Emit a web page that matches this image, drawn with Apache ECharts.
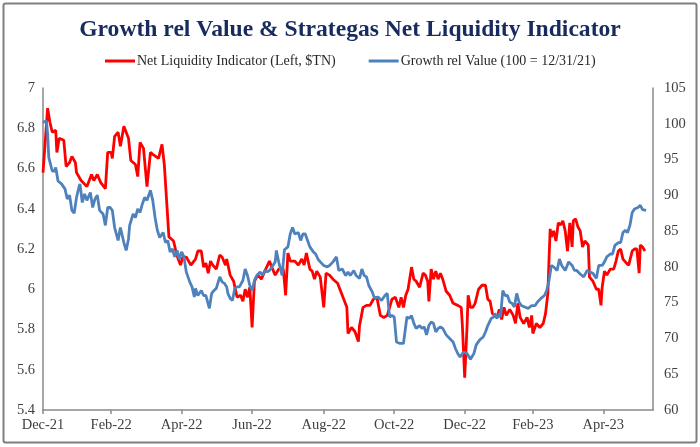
<!DOCTYPE html>
<html>
<head>
<meta charset="utf-8">
<script src="https://cdn.jsdelivr.net/npm/echarts@6/dist/echarts.min.js"></script>
<style>
  html, body { margin: 0; padding: 0; background: #fff; }
  #chart { width: 700px; height: 447px; }
</style>
</head>
<body>
<div id="chart"></div>
<script>
// Days counted from 2021-12-31
const tickDays = [0, 59, 120, 181, 243, 304, 365, 424, 485];
const tickLabels = ['Dec-21', 'Feb-22', 'Apr-22', 'Jun-22', 'Aug-22', 'Oct-22', 'Dec-22', 'Feb-23', 'Apr-23'];

const nliName = 'Net Liquidity Indicator (Left, $TN)';
const grvName = 'Growth rel Value (100 = 12/31/21)';

const nliDays = [0,4,6,8,11,12,14,18,20,23,25,28,29,33,38,42,44,47,50,54,56,59,60,62,65,67,70,72,74,76,80,82,84,87,90,93,95,100,103,105,107,109,113,115,117,119,121,124,128,132,134,137,139,141,143,145,147,150,153,155,158,159,162,165,168,171,173,175,177,179,181,183,186,189,192,196,198,201,204,208,210,212,214,218,221,224,226,228,231,233,235,237,240,243,245,248,251,255,257,261,263,264,267,270,273,274,277,280,283,286,289,292,295,298,302,305,308,310,312,314,316,319,321,323,326,329,331,333,334,336,338,340,342,344,346,349,352,355,359,362,363,365,367,368,370,372,374,377,380,383,385,387,389,393,395,397,399,401,404,407,409,411,413,416,419,421,423,424,427,430,433,435,437,438,439,440,442,444,446,448,450,452,454,456,458,459,461,463,465,467,469,472,473,476,479,481,483,484,486,488,491,494,496,498,500,502,505,507,510,512,514,516,517,519,521];
const nliValues = [6.58,6.90,6.83,6.78,6.79,6.68,6.75,6.74,6.61,6.63,6.66,6.63,6.58,6.54,6.51,6.57,6.54,6.57,6.53,6.50,6.68,6.68,6.65,6.76,6.78,6.71,6.81,6.78,6.75,6.64,6.62,6.56,6.73,6.70,6.51,6.68,6.67,6.65,6.72,6.62,6.44,6.26,6.24,6.19,6.15,6.12,6.16,6.16,6.12,6.15,6.19,6.19,6.11,6.13,6.08,6.14,6.12,6.10,6.17,6.16,6.12,6.15,6.07,6.04,5.96,5.97,5.94,6.00,5.96,6.01,5.81,6.04,6.07,6.05,6.09,6.14,6.11,6.07,6.10,6.10,5.97,6.18,6.14,6.14,6.12,6.15,6.12,6.18,6.10,6.09,6.05,6.09,6.06,5.91,6.08,6.07,6.05,6.03,6.00,5.94,5.91,5.78,5.81,5.79,5.74,5.82,5.91,5.92,5.92,5.95,5.96,5.87,5.86,5.87,5.95,5.96,5.91,5.96,5.91,5.97,6.00,6.11,6.05,6.04,6.01,6.08,6.07,6.04,5.94,6.10,6.05,6.09,6.05,6.08,6.05,5.99,5.97,5.93,5.92,5.91,5.82,5.56,5.81,5.97,5.91,5.91,5.93,6.00,6.02,6.02,5.95,5.94,5.88,5.86,5.90,5.85,5.91,5.87,5.90,5.87,5.83,5.93,5.86,5.83,5.86,5.81,5.87,5.78,5.83,5.81,5.83,5.88,5.98,6.15,6.30,6.26,6.29,6.24,6.33,6.32,6.34,6.29,6.19,6.33,6.21,6.34,6.35,6.31,6.29,6.21,6.24,6.22,6.06,6.04,6.00,6.00,5.92,6.01,6.09,6.07,6.10,6.10,6.14,6.19,6.20,6.15,6.13,6.12,6.19,6.20,6.20,6.08,6.22,6.21,6.19];

const grvDays = [0,3,4,5,8,10,11,13,16,19,21,23,25,27,29,31,32,34,36,38,41,43,45,47,49,52,54,56,58,60,62,65,67,70,72,74,75,78,80,82,84,86,88,90,93,95,97,99,101,104,106,108,110,112,114,116,118,120,122,124,127,129,131,132,134,137,139,141,144,146,148,150,153,155,157,159,160,162,164,166,168,170,173,175,177,179,181,183,185,188,190,192,194,196,199,201,202,204,207,209,212,214,216,218,221,223,225,227,229,231,234,236,238,240,243,246,248,251,254,256,259,262,264,266,269,271,274,276,278,280,282,285,287,290,293,296,298,300,302,304,306,309,312,313,315,317,319,321,323,326,328,330,332,334,336,338,340,342,344,346,349,352,355,357,359,361,364,367,368,370,373,375,378,381,383,385,388,390,391,393,395,396,398,400,402,404,406,408,410,412,414,417,418,420,423,426,428,431,434,436,438,440,442,445,447,449,452,455,458,460,462,465,468,471,473,476,479,481,484,486,488,491,493,495,498,500,502,504,506,508,510,512,515,517,519,522];
const grvValues = [100.2,100.4,98.6,95.3,93.4,93.4,93.9,92.0,91.6,90.9,89.5,90.0,87.9,87.5,89.7,91.1,91.6,89.0,90.2,89.3,90.4,88.3,89.5,90.0,87.9,87.4,85.8,88.3,88.3,87.9,85.5,83.7,85.5,83.4,82.3,83.9,85.8,87.4,86.9,88.1,87.6,88.8,89.7,89.3,90.7,89.3,86.9,85.1,84.1,84.8,83.4,83.7,82.1,82.5,81.4,82.3,81.1,82.1,81.4,79.3,77.9,77.2,75.8,77.0,76.0,76.7,76.0,76.0,74.2,76.3,76.7,77.0,78.6,77.9,77.7,77.2,76.3,75.6,75.3,77.0,77.2,77.2,78.1,79.7,78.8,77.4,76.7,78.1,78.8,79.3,78.8,79.5,79.3,79.5,80.2,80.7,82.3,80.7,78.8,82.4,82.8,84.6,85.5,84.6,84.8,83.7,84.6,84.6,83.7,82.8,82.1,81.8,81.1,80.7,80.2,80.0,80.2,80.7,81.4,79.5,79.7,78.8,79.3,78.8,79.5,78.8,78.4,79.7,78.8,78.6,77.4,76.5,75.6,75.8,75.3,76.0,76.3,73.0,73.2,73.0,69.5,69.3,69.3,69.1,73.0,72.8,73.2,72.1,71.4,71.8,71.4,71.6,70.5,71.8,72.3,72.1,70.9,71.4,71.6,71.4,70.5,70.0,69.5,68.6,67.9,67.4,68.1,67.9,67.9,67.1,67.9,69.1,69.8,70.2,70.9,71.8,72.8,73.0,73.5,72.8,73.5,73.0,76.7,76.0,76.0,75.1,74.9,74.4,76.3,75.1,74.6,74.4,74.6,74.2,74.6,74.6,75.1,75.6,76.0,76.7,78.1,80.2,80.0,79.5,81.1,80.2,79.5,80.7,80.2,79.5,79.5,79.0,78.6,79.5,79.3,79.1,78.4,80.2,80.2,80.7,81.4,81.8,81.8,83.0,83.4,83.4,84.8,85.1,84.8,85.8,87.6,88.1,88.3,88.6,88.0,87.9];

const nliData = nliDays.map((d, i) => [d, nliValues[i]]);
const grvData = grvDays.map((d, i) => [d, grvValues[i]]);

const serif = 'Liberation Serif';
const labelColor = '#404040';
const axisColor = '#898989';

const chart = echarts.init(document.getElementById('chart'), null, { renderer: 'canvas' });
chart.setOption({
  animation: false,
  backgroundColor: '#ffffff',
  title: {
    text: 'Growth rel Value & Strategas Net Liquidity Indicator',
    left: 'center',
    top: 13,
    textStyle: { fontFamily: serif, fontWeight: 'bold', fontSize: 23.6, color: '#182B5E' }
  },
  legend: {
    data: [nliName, grvName],
    left: 105,
    top: 54,
    padding: 0,
    icon: 'rect',
    itemWidth: 30,
    itemHeight: 3,
    itemGap: 33,
    textStyle: { fontFamily: serif, fontSize: 14, color: '#262626', padding: [0, 0, 0, -3] }
  },
  graphic: [{
    type: 'rect',
    shape: { x: 3.5, y: 3.5, width: 693, height: 439, r: 2 },
    style: { fill: 'none', stroke: '#7F7F7F', lineWidth: 2 },
    silent: true,
    z: -1
  }],
  grid: { left: 43, right: 47, top: 88, bottom: 37 },
  xAxis: {
    type: 'value',
    min: 0,
    max: 528,
    splitLine: { show: false },
    axisLine: { show: true, lineStyle: { color: axisColor, width: 1.5 } },
    axisTick: { show: true, customValues: tickDays, length: 4, lineStyle: { color: axisColor, width: 1.5 } },
    axisLabel: {
      customValues: tickDays,
      margin: 8,
      fontFamily: serif, fontSize: 14.5, color: labelColor,
      formatter: function (v) {
        const i = tickDays.indexOf(Math.round(v));
        return i >= 0 ? tickLabels[i] : '';
      }
    }
  },
  yAxis: [{
    type: 'value',
    min: 5.4, max: 7, interval: 0.2,
    position: 'left',
    splitLine: { show: false },
    axisLine: { show: true, lineStyle: { color: axisColor, width: 1.5 } },
    axisTick: { show: false },
    axisLabel: {
      margin: 8, fontFamily: serif, fontSize: 14.5, color: labelColor,
      formatter: function (v) { return String(parseFloat(v.toFixed(1))); }
    }
  }, {
    type: 'value',
    min: 60, max: 105, interval: 5,
    position: 'right',
    splitLine: { show: false },
    axisLine: { show: true, lineStyle: { color: axisColor, width: 1.5 } },
    axisTick: { show: false },
    axisLabel: { margin: 11, fontFamily: serif, fontSize: 14.5, color: labelColor }
  }],
  series: [{
    name: nliName,
    type: 'line',
    yAxisIndex: 0,
    data: nliData,
    showSymbol: false,
    symbol: 'none',
    lineStyle: { color: '#FF0000', width: 2.8 },
    itemStyle: { color: '#FF0000' }
  }, {
    name: grvName,
    type: 'line',
    yAxisIndex: 1,
    data: grvData,
    showSymbol: false,
    symbol: 'none',
    lineStyle: { color: '#4F81BD', width: 2.8 },
    itemStyle: { color: '#4F81BD' }
  }]
});
</script>
</body>
</html>
